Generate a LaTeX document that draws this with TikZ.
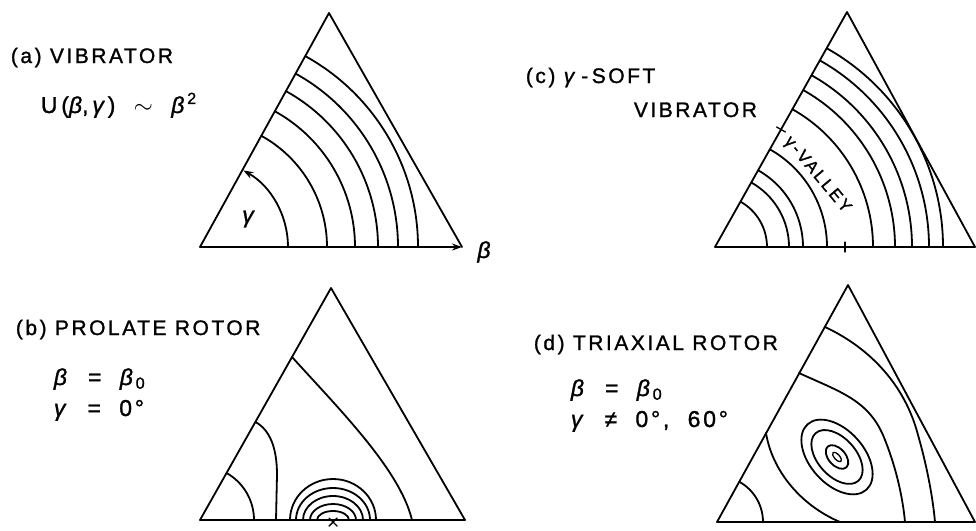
\documentclass[tikz,border=0pt]{standalone}
\usepackage{fontspec}
\setmainfont{Liberation Sans}
\newfontfamily\lbl[LetterSpace=12,FakeBold=1.2]{Liberation Sans}
\newfontfamily\vfont[LetterSpace=14,FakeBold=1.2]{Liberation Sans}
\usetikzlibrary{arrows.meta,calc}
\begin{document}
\begin{tikzpicture}[x=1pt,y=-1pt,line width=1.8pt,line join=round,line cap=round,
  lab/.style={anchor=base west,inner sep=0pt,font={\lbl\fontsize{21}{25}\selectfont}},
  eq/.style={anchor=base west,inner sep=0pt,font={\lbl\fontsize{23}{27}\selectfont}},
  glab/.style={inner sep=0pt,font={\lbl\fontsize{23}{27}\selectfont\itshape}},
  tipa/.style={-{Stealth[length=10pt,width=7pt]}}]
\useasboundingbox (0,0) rectangle (976,530);

% ---------- (a) vibrator ----------
\coordinate (a1) at (200,247);
\coordinate (a2) at (329,13);
\coordinate (a3) at (462,247);
\draw (a3) -- (a2) -- (a1);
\draw[tipa] (a1) -- (a3);
\foreach \r in {127,155,178,198,218}
  \draw ($(a1)+(\r,0)$) arc[start angle=0,end angle=-61.1,radius=\r];
\draw[tipa] ($(a1)+(88,0)$) arc[start angle=0,end angle=-60.5,radius=88];
\node[glab] (gam) at (248,219) {γ};
\node[glab] (bet) at (484,252) {β};
\node[lab] (ta1) at (10,63) {(a) VIBRATOR};
\node[eq] (ta2) at (40,113) {U\,(\textit{β},\,\textit{γ})\ \ $\sim$\ \ \textit{β}\textsuperscript{2}};

% ---------- (c) gamma-soft vibrator ----------
\coordinate (c1) at (715,247);
\coordinate (c2) at (847,12);
\coordinate (c3) at (975,247);
\draw (c1) -- (c2) -- (c3) -- cycle;
\begin{scope}
  \clip (c1) -- (c2) -- (c3) -- cycle;
  \foreach \r in {52,74,88,112,158,180,197,214,228}
    \draw ($(c1)+(\r,0)$) arc[start angle=0,end angle=-61,radius=\r];
\end{scope}
\coordinate (cm) at ($(c1)!0.5!(c2)$);
\draw[line width=1.3pt] ($(cm)+(-4.4,-2.5)$) -- ($(cm)+(4.4,2.5)$);
\coordinate (cb) at ($(c1)!0.5!(c3)$);
\draw[line width=1.3pt] ($(cb)+(0,-5)$) -- ($(cb)+(0,5)$);
\node[inner sep=0pt,rotate=-50,font={\vfont\fontsize{17}{19}\selectfont}] (valley) at (817,175) {γ-VALLEY};
\node[lab] (tc1) at (525,83) {(c)\ \textit{γ}\,-\,SOFT};
\node[lab] (tc2) at (633,117) {VIBRATOR};

% ---------- (b) prolate rotor ----------
\coordinate (b1) at (200,520);
\coordinate (b2) at (331,288);
\coordinate (b3) at (465,520);
\draw (b1) -- (b2) -- (b3) -- cycle;
\draw ($(b1)+(54,0)$) arc[start angle=0,end angle=-60.5,radius=54];
\draw (255.5,422) .. controls (270,430) and (277,448) .. (277,475) -- (276,520);
\draw (292,357) .. controls (340,410) and (400,470) .. (412,520);
\coordinate (bx) at (333,520);
\foreach \rx/\ry in {43/41,37/32,30/24,23/16,16/9}
  \draw ($(bx)+(\rx,0)$) arc[start angle=0,end angle=-180,x radius=\rx,y radius=\ry];
\draw[line width=1.4pt] ($(bx)+(-4,-2)$) -- ($(bx)+(4,6)$);
\draw[line width=1.4pt] ($(bx)+(-4,6)$) -- ($(bx)+(4,-2)$);
\node[lab] (tb1) at (15,335) {(b) PROLATE ROTOR};
\node[eq] (tb2) at (53,385) {\textit{β}\ \ =\ \ \textit{β}\textsubscript{0}};
\node[eq] (tb3) at (53,416) {\textit{γ}\ \ =\ \ 0°};

% ---------- (d) triaxial rotor ----------
\coordinate (d1) at (717,522);
\coordinate (d2) at (848,285);
\coordinate (d3) at (975,522);
\draw (d1) -- (d2) -- (d3) -- cycle;
\draw ($(d1)+(46,0)$) arc[start angle=0,end angle=-61,radius=46];
\draw (766,433) .. controls (772,470) and (800,505) .. (840,522);
\draw (799,373) .. controls (840,392) and (870,400) .. (885,440)
      .. controls (897,470) and (903,500) .. (905,522);
\draw (825,327) .. controls (870,348) and (905,385) .. (918,435)
      .. controls (928,470) and (933,500) .. (935,522);
\coordinate (de) at (837,457);
\draw[rotate around={-48:(de)}] (de) ellipse[x radius=44,y radius=27];
\draw[rotate around={-48:(de)}] (de) ellipse[x radius=32,y radius=19];
\draw[rotate around={-48:(de)}] (de) ellipse[x radius=14,y radius=8.5];
\draw[line width=1.3pt,rotate around={-48:(de)}] (de) ellipse[x radius=6,y radius=2.6];
\node[lab] (td1) at (533,350) {(d) TRIAXIAL ROTOR};
\node[eq] (td2) at (570,396) {\textit{β}\ \ =\ \ \textit{β}\textsubscript{0}};
\node[eq] (td3) at (570,427) {\textit{γ}\ \ ≠\ \ 0°,\ \ 60°};
\end{tikzpicture}
\end{document}
